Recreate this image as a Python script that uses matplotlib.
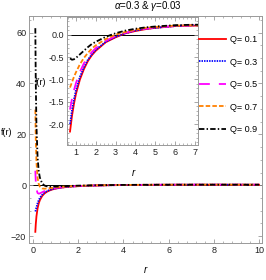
import matplotlib
matplotlib.use("Agg")
import matplotlib.pyplot as plt
from matplotlib.ticker import MultipleLocator

plt.rcParams['font.family'] = ['Liberation Sans Narrow', 'Liberation Sans', 'DejaVu Sans']
plt.rcParams['mathtext.fontset'] = 'custom'
plt.rcParams['mathtext.it'] = 'Liberation Sans:italic'

title = r"$\alpha$=0.3 & $\gamma$=0.03"
labels = ["Q= 0.1", "Q= 0.3", "Q= 0.5", "Q= 0.7", "Q= 0.9"]

r = [0.1, 0.12, 0.15, 0.2, 0.25, 0.3, 0.4, 0.5, 0.6, 0.7, 0.8, 0.9, 1.0, 1.2, 1.4,
     1.6, 1.8, 2.0, 2.5, 3.0, 3.5, 4.0, 4.5, 5.0, 6.0, 7.0, 8.0, 9.0, 10.0]

f_q01 = [-18.30, -15.28, -12.19, -9.06, -7.15, -5.87, -4.25, -3.28, -2.62, -2.16, -1.81, -1.54,
         -1.32, -1.00, -0.77, -0.59, -0.46, -0.36, -0.17, -0.06, 0.03, 0.08, 0.12, 0.15, 0.19,
         0.20, 0.21, 0.21, 0.20]
f_q03 = [-10.30, -9.72, -8.64, -7.06, -5.87, -4.98, -3.75, -2.96, -2.40, -1.99, -1.68, -1.44,
         -1.24, -0.94, -0.73, -0.56, -0.44, -0.34, -0.16, -0.05, 0.03, 0.09, 0.13, 0.15, 0.19,
         0.21, 0.21, 0.21, 0.20]
f_q05 = [5.70, 1.39, -1.53, -3.06, -3.31, -3.20, -2.75, -2.32, -1.96, -1.67, -1.43, -1.24,
         -1.08, -0.83, -0.64, -0.50, -0.39, -0.30, -0.14, -0.03, 0.04, 0.10, 0.13, 0.16, 0.19,
         0.21, 0.21, 0.21, 0.20]
f_q07 = [29.70, 18.06, 9.14, 2.94, 0.53, -0.53, -1.25, -1.36, -1.29, -1.18, -1.06, -0.94,
         -0.84, -0.66, -0.52, -0.41, -0.31, -0.24, -0.10, 0.00, 0.06, 0.11, 0.15, 0.17, 0.20,
         0.21, 0.22, 0.21, 0.20]
f_q09 = [61.70, 40.28, 23.36, 10.94, 5.65, 3.02, 0.75, -0.08, -0.40, -0.53, -0.56, -0.55,
         -0.52, -0.44, -0.36, -0.28, -0.21, -0.16, -0.05, 0.03, 0.09, 0.13, 0.16, 0.18, 0.21,
         0.22, 0.22, 0.22, 0.21]
series = [f_q01, f_q03, f_q05, f_q07, f_q09]

styles = [
    dict(color='#ff0000', linestyle='-'),
    dict(color='#0000ff', linestyle=(0, (0.8, 0.6))),
    dict(color='#ff00ff', linestyle=(0, (6, 5))),
    dict(color='#ff8000', linestyle=(0, (2.5, 1.2))),
    dict(color='#000000', linestyle=(0, (3, 1.2, 0.8, 1.2))),
]

fig = plt.figure(figsize=(2.66, 2.80), dpi=100)
frame_col = '#999999'
tick_fs = 6.5


def style_axes(ax):
    for s in ax.spines.values():
        s.set_color(frame_col)
        s.set_linewidth(0.7)
    ax.tick_params(which='both', direction='in', top=True, right=True, colors=frame_col,
                   labelcolor='#222222', labelsize=tick_fs, pad=2)
    ax.tick_params(which='major', length=3, width=0.6)
    ax.tick_params(which='minor', length=1.6, width=0.5)


ax = fig.add_axes([0.109, 0.132, 0.876, 0.811])
for f, st in zip(series, styles):
    ax.plot(r, f, lw=1.3, **st)
ax.axhline(0, color='black', lw=0.7, zorder=0)
ax.set_xlim(-0.18, 10.13)
ax.set_ylim(-22.7, 66.5)
ax.xaxis.set_major_locator(MultipleLocator(2))
ax.xaxis.set_minor_locator(MultipleLocator(0.4))
ax.yaxis.set_major_locator(MultipleLocator(20))
ax.yaxis.set_minor_locator(MultipleLocator(5))
style_axes(ax)
ax.tick_params(labelright=False, labeltop=False)
fig.text(0.545, 0.036, "r", ha='center', va='center', fontsize=7, style='italic')
fig.text(0.026, 0.528, "f(r)", ha='center', va='center', fontsize=6.5)
fig.text(0.556, 0.979, title, ha='center', va='center', fontsize=7)

ins = fig.add_axes([0.252, 0.482, 0.492, 0.457])
handles = []
for f, st, lab in zip(series, styles, labels):
    h, = ins.plot(r[9:], f[9:], lw=1.3, label=lab, **st)
    handles.append(h)
ins.axhline(0, color='black', lw=0.7, zorder=0)
ins.set_xlim(0.55, 7.15)
ins.set_ylim(-2.46, 0.39)
ins.xaxis.set_major_locator(MultipleLocator(1))
ins.xaxis.set_minor_locator(MultipleLocator(0.2))
ins.yaxis.set_major_locator(MultipleLocator(0.5))
ins.yaxis.set_minor_locator(MultipleLocator(0.1))
style_axes(ins)
ins.yaxis.set_major_formatter(matplotlib.ticker.FormatStrFormatter('%.1f'))
fig.text(0.152, 0.707, "f(r)", ha='center', va='center', fontsize=6.5)
fig.text(0.5, 0.382, "r", ha='center', va='center', fontsize=7, style='italic')

fig.legend(handles, labels, loc='upper left', bbox_to_anchor=(0.748, 0.875), frameon=False,
           fontsize=6.5, handlelength=3.0, handletextpad=0.4, labelspacing=1.5,
           borderaxespad=0, borderpad=0)

fig.savefig("out.png", dpi=100)
